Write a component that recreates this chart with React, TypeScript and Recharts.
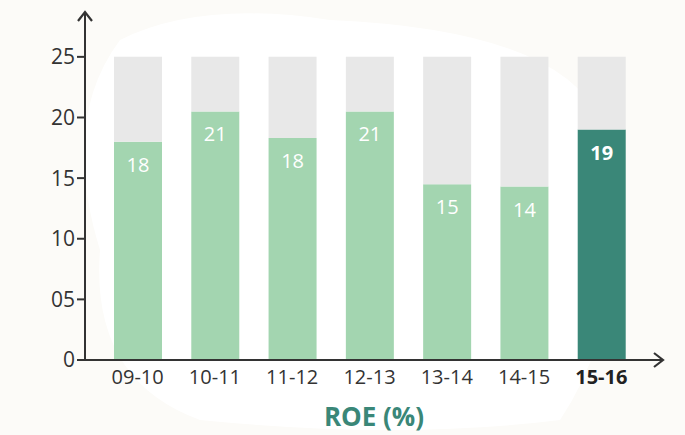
import React from 'react';
import { BarChart, Bar, XAxis, YAxis, Cell, LabelList } from 'recharts';

const periods = ['09-10', '10-11', '11-12', '12-13', '13-14', '14-15', '15-16'];
const roeValues = [18, 20.5, 18.3, 20.5, 14.5, 14.3, 19];
const maxValue = 25;
const yTicks = [0, 5, 10, 15, 20, 25];
const yTickLabels = ['0', '05', '10', '15', '20', '25'];

// grey track up to 25 is stacked on top of the value
const data = periods.map((p, i) => ({ period: p, roe: roeValues[i], rest: maxValue - roeValues[i] }));

const FONT = '"Open Sans", "Noto Sans", sans-serif';
const AXIS = '#333333';

function XTick({ x, y, payload, index }: any) {
  const last = index === periods.length - 1;
  return (
    <text x={x} y={y} dy={16} textAnchor="middle" fontSize={20} fontFamily={FONT}
      fontWeight={last ? 700 : 400} fill={last ? '#222' : '#333'}>
      {payload.value}
    </text>
  );
}

function ValueLabel({ x, y, width, value, index }: any) {
  const last = index === periods.length - 1;
  return (
    <text x={x + width / 2} y={y + 30} textAnchor="middle" fontSize={20} fontFamily={FONT}
      fontWeight={last ? 700 : 400} fill="#ffffff">
      {Math.round(value)}
    </text>
  );
}

export default function App() {
  return (
    <div style={{ position: 'absolute', left: 0, top: 0, width: 685, height: 435, background: '#fcfbf8', fontFamily: FONT }}>
      <svg width={685} height={435} style={{ position: 'absolute', left: 0, top: 0 }}>
        <path d="M120 40 Q200 0 330 20 Q560 30 600 120 Q640 300 560 420 Q400 440 200 420 Q90 380 100 250 Q60 120 120 40 Z" fill="#ffffff" />
      </svg>
      <div style={{ position: 'absolute', left: 0, top: 0 }}>
        <BarChart width={685} height={435} data={data} barSize={48}
          margin={{ top: 12, right: 22, bottom: 45, left: 25 }}>
          <XAxis dataKey="period" axisLine={{ stroke: AXIS, strokeWidth: 2 }} tickLine={false}
            padding={{ left: 14, right: 23 }} tick={<XTick />} interval={0} height={30} />
          <YAxis domain={[0, 28.7]} ticks={yTicks} allowDataOverflow width={60}
            axisLine={{ stroke: AXIS, strokeWidth: 2 }} tickLine={{ stroke: AXIS, strokeWidth: 2 }} tickSize={8}
            tick={{ fontSize: 21, fill: '#333', fontFamily: FONT }}
            tickFormatter={(v: number) => yTickLabels[yTicks.indexOf(v)]} />
          <Bar dataKey="roe" stackId="a" isAnimationActive={false}>
            {data.map((d, i) => (
              <Cell key={d.period} fill={i === periods.length - 1 ? '#3a8778' : '#a3d5b0'} />
            ))}
            <LabelList dataKey="roe" content={<ValueLabel />} />
          </Bar>
          <Bar dataKey="rest" stackId="a" fill="#e8e8e8" isAnimationActive={false} />
        </BarChart>
      </div>
      <svg width={685} height={435} style={{ position: 'absolute', left: 0, top: 0, pointerEvents: 'none' }}>
        <polyline points="78,21 85,12 92,21" fill="none" stroke={AXIS} strokeWidth={2.2} />
        <polyline points="654,353 663,360 654,367" fill="none" stroke={AXIS} strokeWidth={2.2} />
        <text x={374} y={426} textAnchor="middle" fontSize={26} fontWeight={700} fill="#3a8778" fontFamily={FONT}>
          ROE (%)
        </text>
      </svg>
    </div>
  );
}
